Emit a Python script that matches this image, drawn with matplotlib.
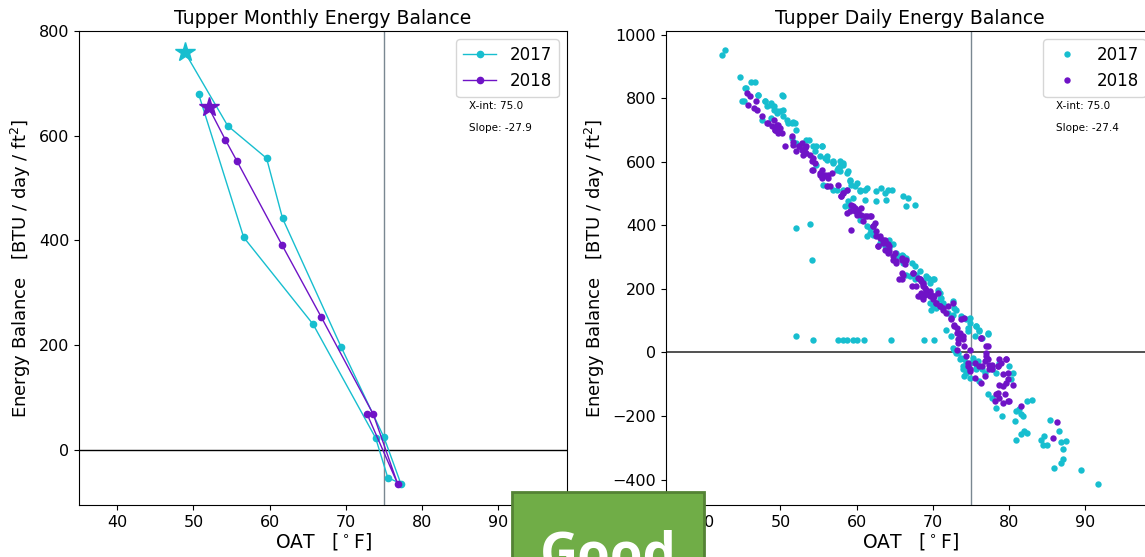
import numpy as np
import matplotlib
matplotlib.use('Agg')
import matplotlib.pyplot as plt
from matplotlib.patches import Rectangle

# monthly points, Jan first (marked with a star)
oat_month_2017 = [48.9, 54.5, 59.6, 61.7, 69.4, 75.0, 77.2, 75.5, 73.9, 65.7, 56.6, 50.7]
eb_month_2017 = [759, 619, 557, 442, 196, 24, -64, -53, 23, 240, 406, 679]
oat_month_2018 = [52.0, 54.2, 55.7, 61.6, 66.8, 73.6, 76.8, 72.8]
eb_month_2018 = [654, 592, 552, 392, 253, 68, -65, 68]

# daily points (OAT, energy balance)
daily_2017 = [
    (42.3, 937), (42.7, 951), (44.7, 866), (46.2, 850), (46.7, 850), (45.5, 832),
    (47.1, 811), (45.2, 790), (50.3, 808), (48.0, 790), (48.7, 785), (49.1, 775),
    (48.2, 775), (49.5, 759), (50.4, 764), (47.6, 733), (48.7, 738), (50.8, 733),
    (51.7, 727), (52.1, 701), (53.7, 670), (54.7, 649), (55.4, 649), (55.8, 612),
    (56.9, 598), (57.6, 581), (54.7, 591), (55.6, 528), (57.8, 570),
    (44.9, 790), (45.4, 832), (47.1, 811), (48.0, 790), (48.7, 780), (49.1, 764),
    (49.5, 754), (50.0, 759), (50.4, 743), (51.0, 722), (51.5, 722), (51.9, 722),
    (50.2, 811), (51.5, 675), (52.1, 659), (53.4, 670), (54.3, 649), (55.4, 649),
    (54.5, 633), (55.2, 617), (56.1, 607), (56.9, 602), (58.2, 596), (57.8, 586),
    (58.9, 570), (57.4, 575), (59.1, 544), (59.3, 528), (59.8, 523), (60.4, 513),
    (61.1, 513), (58.7, 513), (56.9, 513), (56.1, 523),
    (56.1, 617), (56.9, 596), (57.8, 602), (58.2, 591), (58.7, 565), (57.4, 513),
    (58.2, 513), (59.1, 539), (60.0, 534), (60.4, 507), (61.3, 518), (62.6, 507),
    (63.2, 518), (63.7, 502), (64.1, 513), (64.6, 513), (63.9, 481), (62.6, 476),
    (66.1, 492), (66.7, 486), (67.6, 465), (66.5, 460), (58.9, 476), (59.5, 486),
    (61.1, 481), (61.7, 392), (62.2, 376), (61.3, 366), (64.3, 355), (64.8, 340),
    (65.4, 303), (66.1, 303), (66.1, 282), (67.0, 240), (67.8, 245), (68.7, 224),
    (69.6, 219), (70.7, 198), (71.1, 172),
    (58.5, 460), (59.1, 460), (60.4, 418), (61.3, 397), (61.7, 376), (62.2, 371),
    (63.0, 345), (63.7, 334), (64.3, 329), (65.2, 313), (65.9, 308), (66.5, 298),
    (67.2, 282), (67.6, 271), (68.3, 256), (69.1, 240), (70.0, 230), (70.9, 188),
    (69.6, 156), (70.0, 146), (71.3, 156), (72.6, 161), (72.8, 140), (72.0, 125),
    (71.7, 72), (72.4, 51),
    (66.5, 245), (67.6, 230), (69.3, 235), (70.2, 230), (70.7, 188), (70.9, 167),
    (69.8, 135), (70.4, 141), (71.1, 151), (72.6, 119), (73.0, 135),
    (73.7, 114), (74.4, 104), (74.8, 93), (74.6, 67), (75.7, 83), (76.1, 67),
    (77.2, 60), (76.5, 46), (75.5, 51), (72.6, 15), (72.8, 9), (73.3, -1),
    (73.9, 109), (74.8, 109), (74.6, 78), (75.7, 83), (76.1, 72), (77.2, 57),
    (73.0, -1), (73.5, -22), (73.9, -43), (74.4, -64), (74.8, -80), (75.7, -53),
    (77.8, -53), (78.7, -32),
    (73.7, -17), (74.1, -22), (74.4, -32), (74.8, -32), (73.9, -53), (74.6, -53),
    (74.1, -75), (75.2, -17), (75.9, -27), (75.7, -48), (76.5, -53), (76.1, -90),
    (76.8, -64), (78.3, -64), (80.0, -43), (80.5, -64), (80.2, -85), (77.2, -132),
    (77.8, -142), (78.3, -174), (79.0, -200), (81.3, -179), (82.4, -153), (81.8, -200),
    (80.9, -185), (81.6, -195), (80.7, -216), (83.0, -148), (80.9, -274), (81.6, -258),
    (82.0, -247), (82.4, -253), (85.3, -213), (86.6, -247), (84.2, -274), (84.6, -263),
    (84.4, -292), (85.0, -292), (86.8, -282), (87.4, -279), (87.0, -305), (87.0, -336),
    (86.8, -347), (85.9, -363), (89.4, -370), (91.7, -413),
    (52.1, 392), (53.9, 405), (54.1, 290), (52.1, 51), (54.3, 39), (57.6, 39),
    (58.2, 39), (58.7, 39), (59.5, 39), (60.0, 39), (60.9, 39), (64.5, 39),
    (68.8, 39), (70.1, 39),
]

daily_2018 = [
    (45.6, 817), (46.0, 806), (46.8, 790), (45.8, 780), (46.5, 770), (46.9, 764),
    (47.6, 743), (48.4, 722), (49.1, 733), (49.7, 717), (49.3, 701), (50.2, 691),
    (50.0, 707), (50.6, 649), (51.5, 680), (51.7, 664), (52.4, 649), (52.8, 659),
    (53.0, 638), (53.4, 628), (53.2, 644), (53.9, 623), (54.3, 612), (55.2, 565),
    (55.6, 554), (56.3, 560), (55.4, 575), (54.1, 575), (57.6, 528), (56.5, 523),
    (48.2, 722), (48.9, 712), (49.3, 701), (49.7, 691), (49.5, 717), (51.7, 654),
    (52.4, 649), (52.8, 638), (53.0, 623), (52.1, 633), (53.4, 649), (54.1, 602),
    (54.5, 596), (54.3, 575), (55.2, 560), (55.4, 549),
    (55.8, 560), (56.3, 549), (56.1, 523), (56.7, 565), (58.2, 502), (58.7, 513),
    (58.0, 492), (59.3, 465), (59.8, 455), (60.2, 444), (60.6, 455), (60.0, 434),
    (59.1, 444), (58.7, 439), (61.1, 429), (61.7, 429), (60.8, 413), (62.2, 397),
    (62.4, 408), (59.3, 387), (62.6, 366), (63.0, 361), (63.7, 355), (63.5, 345),
    (58.0, 492), (58.2, 502), (59.5, 460), (60.0, 450), (60.2, 439), (60.6, 434),
    (61.3, 429), (61.9, 429), (59.8, 444), (62.2, 397), (62.6, 382), (63.0, 366),
    (63.5, 355), (63.9, 345), (64.3, 334), (62.8, 334), (64.1, 314), (64.8, 303),
    (65.2, 287), (65.9, 292), (66.3, 277),
    (64.1, 340), (62.8, 334), (63.7, 324), (64.3, 319), (65.0, 314), (64.8, 292),
    (65.2, 282), (65.9, 298), (66.5, 292), (66.1, 245), (67.2, 208), (65.9, 230),
    (68.0, 235), (68.5, 224), (68.7, 208), (68.3, 177), (68.9, 182), (69.6, 193),
    (70.2, 177), (70.7, 188),
    (65.9, 251), (65.6, 230), (67.4, 251), (68.3, 230), (68.7, 219), (68.9, 203),
    (69.1, 188), (69.6, 177), (70.0, 167), (70.4, 156), (70.9, 146), (71.3, 135),
    (71.7, 125), (68.0, 177), (68.7, 167),
    (67.4, 251), (68.3, 230), (68.7, 214), (69.1, 198), (68.5, 188), (67.8, 208),
    (69.6, 188), (70.0, 177), (70.4, 156), (70.9, 146), (71.3, 141), (72.0, 146),
    (72.6, 156), (72.4, 109), (72.8, 88), (73.1, 78), (73.5, 62), (73.3, 41),
    (73.9, 51), (74.1, 109), (73.7, 104), (73.1, 9), (74.8, 9), (74.6, -43),
    (72.4, 104), (72.8, 83), (73.1, 62), (73.5, 51), (73.9, 41), (73.3, 30),
    (74.1, 20), (74.4, -12), (74.6, -32), (74.8, -53), (75.5, -32), (76.1, -43),
    (76.8, -27), (77.0, -12), (77.4, -38), (77.8, -53), (78.5, -43), (78.9, -32),
    (79.6, -22), (79.8, -64), (76.3, 46), (77.0, 20),
    (74.8, -59), (75.5, -80), (76.3, 46), (77.2, 20), (77.0, -1), (77.2, -22),
    (76.5, -43), (76.8, -75), (76.3, -95), (77.4, -53), (77.8, -38), (78.7, -22),
    (79.6, -22), (78.5, -43), (79.2, -69), (78.7, -101), (79.2, -106), (79.6, -95),
    (79.8, -85), (78.3, -132), (78.7, -142), (79.4, -132), (79.2, -158), (80.0, -153),
    (81.5, -169), (80.5, -101), (78.5, -127), (79.8, -153), (78.1, -153),
    (86.3, -219), (85.7, -268),
]

xint_month, slope_month = 75.0, -27.9
xint_daily, slope_daily = 75.0, -27.4

c2017 = '#17becf'
c2018 = '#6f13c6'

fig = plt.figure(figsize=(11.45, 5.57), dpi=100)
ax1 = fig.add_axes([0.069, 0.0934, 0.4262, 0.851])
ax2 = fig.add_axes([0.5817, 0.0934, 0.4262, 0.851])

# monthly
ax1.axvline(xint_month, color='#7a8791', lw=1, zorder=1)
ax1.axhline(0, color='black', lw=1, zorder=1)
ax1.plot(oat_month_2017, eb_month_2017, '-o', color=c2017, lw=1, ms=4.5, label='2017')
ax1.plot(oat_month_2018, eb_month_2018, '-o', color=c2018, lw=1, ms=4.5, label='2018')
ax1.plot(oat_month_2017[0], eb_month_2017[0], '*', color=c2017, ms=15)
ax1.plot(oat_month_2018[0], eb_month_2018[0], '*', color=c2018, ms=15)
ax1.set_xlim(35, 99)
ax1.set_ylim(-105, 800)
ax1.set_xticks([40, 50, 60, 70, 80, 90])
ax1.set_yticks([0, 200, 400, 600, 800])
ax1.set_title('Tupper Monthly Energy Balance', fontsize=13.5, pad=5)
ax1.set_xlabel('OAT   [$^\\circ$F]', fontsize=13.5, labelpad=1)
ax1.set_ylabel('Energy Balance   [BTU / day / ft$^2$]', fontsize=13)
ax1.legend(loc='upper right', fontsize=12)
ax1.text(0.80, 0.835, f'X-int: {xint_month}', transform=ax1.transAxes, fontsize=7.5)
ax1.text(0.80, 0.79, f'Slope: {slope_month}', transform=ax1.transAxes, fontsize=7.5)

# daily
d17 = np.array(daily_2017).T
d18 = np.array(daily_2018).T
ax2.axvline(xint_daily, color='#7a8791', lw=1, zorder=1)
ax2.axhline(0, color='#333333', lw=1.2, zorder=1)
ax2.plot(d17[0], d17[1], 'o', color=c2017, ms=4.6, mew=0, label='2017')
ax2.plot(d18[0], d18[1], 'o', color=c2018, ms=4.6, mew=0, label='2018')
ax2.set_xlim(35, 99)
ax2.set_ylim(-480, 1012)
ax2.set_xticks([40, 50, 60, 70, 80, 90])
ax2.set_yticks([-400, -200, 0, 200, 400, 600, 800, 1000])
ax2.set_title('Tupper Daily Energy Balance', fontsize=13.5, pad=5)
ax2.set_xlabel('OAT   [$^\\circ$F]', fontsize=13.5, labelpad=1)
ax2.set_ylabel('Energy Balance   [BTU / day / ft$^2$]', fontsize=13)
ax2.legend(loc='upper right', fontsize=12)
ax2.text(0.80, 0.835, f'X-int: {xint_daily}', transform=ax2.transAxes, fontsize=7.5)
ax2.text(0.80, 0.79, f'Slope: {slope_daily}', transform=ax2.transAxes, fontsize=7.5)

for ax in (ax1, ax2):
    ax.tick_params(labelsize=11.5)

# slide overlay box
box = Rectangle((0.4472, -0.02), 0.1677, 0.137, transform=fig.transFigure,
                facecolor='#70ad47', edgecolor='#548235', lw=2, zorder=10)
fig.add_artist(box)
fig.text(0.5314, -0.025, 'Good', transform=fig.transFigure, ha='center', va='baseline',
         fontsize=38, fontweight='bold', color='white', family='Open Sans', zorder=11)

fig.savefig('out.png', dpi=100)
